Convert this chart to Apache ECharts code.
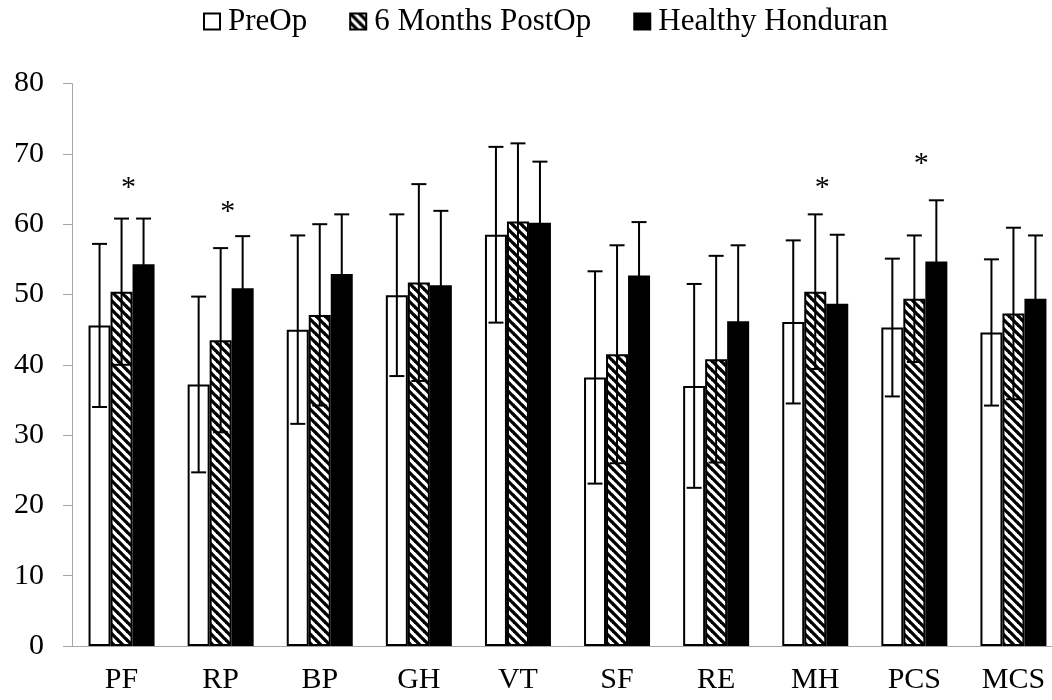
<!DOCTYPE html>
<html>
<head>
<meta charset="utf-8">
<title>SF-36 scores</title>
<script src="https://cdn.jsdelivr.net/npm/echarts@6/dist/echarts.min.js"></script>
<style>
  html, body { margin: 0; padding: 0; background: #fff; }
  #chart { width: 1052px; height: 700px; }
</style>
</head>
<body>
<div id="chart"></div>
<script>
// values (mean and SD)
const categories = ['PF', 'RP', 'BP', 'GH', 'VT', 'SF', 'RE', 'MH', 'PCS', 'MCS']
const preOp = [45.6, 37.2, 45.0, 49.9, 58.5, 38.2, 37.0, 46.1, 45.3, 44.6]
const preOpSd = [11.6, 12.5, 13.4, 11.5, 12.5, 15.1, 14.5, 11.6, 9.8, 10.4]
const postOp = [50.4, 43.5, 47.1, 51.7, 60.4, 41.5, 40.8, 50.4, 49.4, 47.3]
const postOpSd = [10.4, 13.1, 12.9, 14.0, 11.1, 15.5, 14.7, 11.0, 9.0, 12.2]
const healthy = [54.3, 50.9, 52.9, 51.3, 60.2, 52.7, 46.2, 48.7, 54.7, 49.4]
const healthySd = [6.5, 7.4, 8.5, 10.6, 8.7, 7.6, 10.8, 9.8, 8.7, 9.0]
// significance markers
const starCats = ['PF', 'RP', 'MH', 'PCS']
const starValues = [66.0, 62.6, 66.0, 69.4]

const seriesNames = ['PreOp', '6 Months PostOp', 'Healthy Honduran']
const FONT = '"Liberation Serif", "Times New Roman", serif'
const BAR_W = 22

// diagonal hatch pattern for the PostOp bars
function hatch() {
  const c = document.createElement('canvas')
  const s = 9
  c.width = s
  c.height = s
  const ctx = c.getContext('2d')
  ctx.fillStyle = '#fff'
  ctx.fillRect(0, 0, s, s)
  ctx.strokeStyle = '#000'
  ctx.lineWidth = 3.3
  for (const k of [-s, 0, s]) {
    ctx.beginPath()
    ctx.moveTo(k - 1, -1)
    ctx.lineTo(k + s + 1, s + 1)
    ctx.stroke()
  }
  return c
}

function errorData(means, sds) {
  return means.map((m, i) => [i, m, sds[i]])
}

function errorSeries(means, sds, shift) {
  return {
    type: 'custom',
    z: 5,
    silent: true,
    data: errorData(means, sds),
    renderItem(params, api) {
      const i = api.value(0)
      const m = api.value(1)
      const sd = api.value(2)
      const hi = api.coord([i, m + sd])
      const lo = api.coord([i, m - sd])
      const x = hi[0] + shift * BAR_W
      const cap = 7.5
      const style = { stroke: '#000', lineWidth: 2 }
      return {
        type: 'group',
        children: [
          { type: 'line', shape: { x1: x, y1: hi[1], x2: x, y2: lo[1] }, style },
          { type: 'line', shape: { x1: x - cap, y1: hi[1], x2: x + cap, y2: hi[1] }, style },
          { type: 'line', shape: { x1: x - cap, y1: lo[1], x2: x + cap, y2: lo[1] }, style }
        ]
      }
    }
  }
}

const chart = echarts.init(document.getElementById('chart'))

const option = {
  animation: false,
  backgroundColor: '#fff',
  legend: {
    data: seriesNames,
    icon: 'rect',
    top: 6,
    left: 203,
    padding: 0,
    itemWidth: 16,
    itemHeight: 16,
    itemGap: 42,
    textStyle: { fontFamily: FONT, fontSize: 31, color: '#000', padding: [0, 0, 0, 3] }
  },
  grid: { left: 72, right: -11, top: 83.6, bottom: 54, outerBoundsMode: 'none' },
  xAxis: {
    type: 'category',
    data: categories,
    axisLine: { lineStyle: { color: '#a6a6a6', width: 1 } },
    axisTick: { length: 9, lineStyle: { color: '#a6a6a6' } },
    axisLabel: { fontFamily: FONT, fontSize: 30, color: '#000', margin: 19 }
  },
  yAxis: {
    type: 'value',
    min: 0,
    max: 80,
    interval: 10,
    splitLine: { show: false },
    axisLine: { show: true, lineStyle: { color: '#a6a6a6', width: 1 } },
    axisTick: { show: true, length: 9, lineStyle: { color: '#a6a6a6' } },
    axisLabel: { fontFamily: FONT, fontSize: 30, color: '#000', margin: 28 }
  },
  series: [
    {
      name: seriesNames[0],
      type: 'bar',
      data: preOp,
      barWidth: BAR_W,
      barGap: '0%',
      itemStyle: { color: '#fff', borderColor: '#000', borderWidth: 2 }
    },
    {
      name: seriesNames[1],
      type: 'bar',
      data: postOp,
      barWidth: BAR_W,
      barGap: '0%',
      itemStyle: { color: { image: hatch(), repeat: 'repeat' }, borderColor: '#000', borderWidth: 2 }
    },
    {
      name: seriesNames[2],
      type: 'bar',
      data: healthy,
      barWidth: BAR_W,
      barGap: '0%',
      itemStyle: { color: '#000', borderColor: '#000', borderWidth: 2 }
    },
    errorSeries(preOp, preOpSd, -1),
    errorSeries(postOp, postOpSd, 0),
    errorSeries(healthy, healthySd, 1),
    {
      type: 'custom',
      z: 6,
      silent: true,
      data: starCats.map((c, k) => [categories.indexOf(c), starValues[k]]),
      renderItem(params, api) {
        const p = api.coord([api.value(0), api.value(1)])
        return {
          type: 'text',
          x: p[0] + 7,
          y: p[1] + 6,
          style: {
            text: '*',
            fontFamily: FONT,
            fontSize: 30,
            fill: '#000',
            align: 'center',
            verticalAlign: 'middle'
          }
        }
      }
    }
  ]
}

chart.setOption(option)
</script>
</body>
</html>
